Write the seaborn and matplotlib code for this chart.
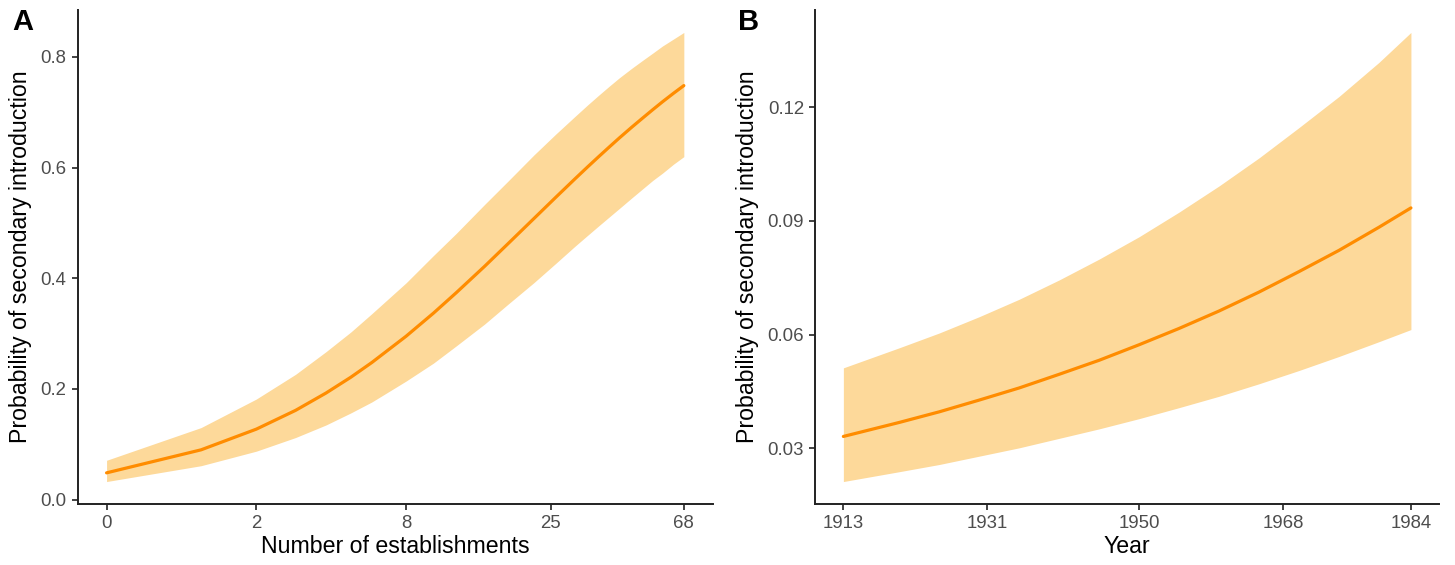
import numpy as np
import pandas as pd
import matplotlib
matplotlib.use("Agg")
import matplotlib.pyplot as plt
import seaborn as sns

# ---- Panel A data: number of establishments ----
est_n = [0, 1, 2, 3, 4, 5, 6, 8, 10, 12, 15, 18, 22, 26, 30, 33, 36, 39, 42, 46, 50, 54, 58, 63, 68]
est_prob = [0.0483, 0.0899, 0.1273, 0.1612, 0.1925, 0.2211, 0.2477, 0.2952, 0.3369, 0.3738,
            0.4214, 0.4623, 0.5080, 0.5464, 0.5791, 0.6006, 0.6199, 0.6374, 0.6534, 0.6724,
            0.6893, 0.7047, 0.7187, 0.7342, 0.7480]
est_upper = [0.0710, 0.1301, 0.1817, 0.2263, 0.2672, 0.3028, 0.3360, 0.3917, 0.4410, 0.4810,
             0.5332, 0.5754, 0.6229, 0.6606, 0.6919, 0.7126, 0.7309, 0.7473, 0.7621, 0.7789,
             0.7936, 0.8069, 0.8195, 0.8322, 0.8440]
est_lower = [0.0326, 0.0612, 0.0875, 0.1121, 0.1348, 0.1566, 0.1764, 0.2142, 0.2466, 0.2777,
             0.3171, 0.3530, 0.3922, 0.4270, 0.4574, 0.4770, 0.4948, 0.5110, 0.5260, 0.5446,
             0.5614, 0.5769, 0.5898, 0.6061, 0.6196]
est_ticks = [0, 2, 8, 25, 68]
est_yticks = [0.0, 0.2, 0.4, 0.6, 0.8]

# ---- Panel B data: year ----
years = [1913, 1920, 1925, 1930, 1935, 1940, 1945, 1950, 1955, 1960, 1965, 1970, 1975, 1980, 1984]
year_prob = [0.0331, 0.0368, 0.0396, 0.0427, 0.0459, 0.0495, 0.0532, 0.0573, 0.0616, 0.0662,
             0.0712, 0.0766, 0.0822, 0.0883, 0.0934]
year_upper = [0.0512, 0.0565, 0.0604, 0.0647, 0.0693, 0.0744, 0.0799, 0.0858, 0.0923, 0.0992,
              0.1066, 0.1146, 0.1228, 0.1318, 0.1397]
year_lower = [0.0212, 0.0238, 0.0257, 0.0279, 0.0301, 0.0326, 0.0351, 0.0378, 0.0407, 0.0437,
              0.0470, 0.0505, 0.0542, 0.0581, 0.0613]
year_ticks = [1913, 1931, 1950, 1968, 1984]
year_yticks = [0.03, 0.06, 0.09, 0.12]

ylabel = "Probability of secondary introduction"
line_col = "#FF8C00"
band_col = "#FDD99A"
axis_col = "#222222"
tick_txt = "#4D4D4D"

sns.set_theme(style="ticks")
plt.rcParams["font.family"] = ["Liberation Sans", "DejaVu Sans"]

df_a = pd.DataFrame({"n": est_n, "p": est_prob, "lo": est_lower, "hi": est_upper})
df_b = pd.DataFrame({"year": years, "p": year_prob, "lo": year_lower, "hi": year_upper})

fig = plt.figure(figsize=(14.55, 5.65), dpi=100)
ax_a = fig.add_axes([77.7 / 1455, 1 - 504 / 565, 635 / 1455, 494 / 565])
ax_b = fig.add_axes([815 / 1455, 1 - 504 / 565, 624.3 / 1455, 494 / 565])

# Panel A
ax_a.set_xscale("function", functions=(np.log1p, np.expm1))
ax_a.fill_between(df_a["n"], df_a["lo"], df_a["hi"], color=band_col, lw=0, zorder=1)
sns.lineplot(data=df_a, x="n", y="p", ax=ax_a, color=line_col, lw=2.3, zorder=2,
             estimator=None, sort=True)
ax_a.set_xticks(est_ticks)
ax_a.set_xticklabels([str(t) for t in est_ticks])
ax_a.set_yticks(est_yticks)
ax_a.set_yticklabels([f"{v:.1f}" for v in est_yticks])
ax_a.set_xlabel("Number of establishments")

# Panel B
ax_b.fill_between(df_b["year"], df_b["lo"], df_b["hi"], color=band_col, lw=0, zorder=1)
sns.lineplot(data=df_b, x="year", y="p", ax=ax_b, color=line_col, lw=2.3, zorder=2,
             estimator=None, sort=True)
ax_b.set_xticks(year_ticks)
ax_b.set_xticklabels([str(t) for t in year_ticks])
ax_b.set_yticks(year_yticks)
ax_b.set_yticklabels([f"{v:.2f}" for v in year_yticks])
ax_b.set_xlabel("Year")

for ax in (ax_a, ax_b):
    ax.margins(x=0.05, y=0.05)
    ax.autoscale_view()
    sns.despine(ax=ax)
    ax.set_ylabel(ylabel, fontsize=16.7, color="black", labelpad=6)
    ax.xaxis.label.set_fontsize(16.7)
    ax.xaxis.label.set_color("black")
    ax.xaxis.labelpad = 2
    for side in ("left", "bottom"):
        ax.spines[side].set_color(axis_col)
        ax.spines[side].set_linewidth(1.4)
    ax.tick_params(axis="both", length=4, width=1.2, color=axis_col,
                   labelsize=13.4, labelcolor=tick_txt, pad=4)
    ax.grid(False)
    ax.set_facecolor("white")

fig.text(12 / 1455, 1 - 8 / 565, "A", fontsize=21, fontweight="bold", color="black",
         ha="left", va="top")
fig.text(738 / 1455, 1 - 8 / 565, "B", fontsize=21, fontweight="bold", color="black",
         ha="left", va="top")

fig.savefig("out.png", dpi=100, facecolor="white")
